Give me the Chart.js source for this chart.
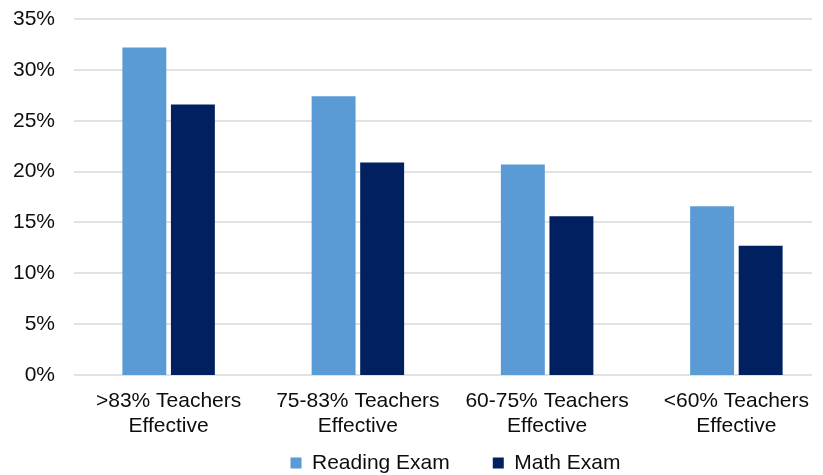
<!DOCTYPE html>
<html>
<head>
<meta charset="utf-8">
<script src="https://cdn.jsdelivr.net/npm/chart.js@4.4.1/dist/chart.umd.min.js"></script>
<style>
  html, body { margin: 0; padding: 0; background: #ffffff; overflow: hidden; }
  #wrap { position: relative; width: 831px; height: 475px; }
</style>
</head>
<body>
<div id="wrap"><canvas id="c"></canvas></div>
<script>
const categories = [
  ['>83% Teachers', 'Effective'],
  ['75-83% Teachers', 'Effective'],
  ['60-75% Teachers', 'Effective'],
  ['<60% Teachers', 'Effective']
];
const readingExam = [32.2, 27.4, 20.7, 16.6];
const mathExam = [26.6, 20.9, 15.6, 12.7];
const seriesNames = ['Reading Exam', 'Math Exam'];
const yTicks = [0, 5, 10, 15, 20, 25, 30, 35];

const gridRight = {
  id: 'gridRight',
  beforeDatasetsDraw(chart) {
    const ctx = chart.ctx, y = chart.scales.y, a = chart.chartArea;
    ctx.save();
    ctx.strokeStyle = '#d9d9d9';
    ctx.lineWidth = 1.5;
    y.ticks.forEach(t => {
      const py = Math.round(y.getPixelForValue(t.value));
      ctx.beginPath();
      ctx.moveTo(a.left, py);
      ctx.lineTo(a.left + 738, py);
      ctx.stroke();
    });
    ctx.restore();
  }
};

const layoutTweak = {
  id: 'layoutTweak',
  afterLayout(chart) {
    chart.legend.left += 33.5;
    chart.legend.right += 33.5;
    chart.scales.x.bottom = chart.height;
  }
};

Chart.defaults.font.family = "'Liberation Sans', Arial, sans-serif";
Chart.defaults.color = '#0d0d0d';

new Chart(document.getElementById('c'), {
  type: 'bar',
  data: {
    labels: categories,
    datasets: [
      { label: seriesNames[0], data: readingExam, backgroundColor: '#5b9bd5', borderWidth: 0 },
      { label: seriesNames[1], data: mathExam, backgroundColor: '#002060', borderWidth: 0 }
    ]
  },
  options: {
    responsive: true,
    maintainAspectRatio: false,
    animation: false,
    layout: { padding: { top: 19, left: 13, right: 0, bottom: -8.5 } },
    datasets: { bar: { categoryPercentage: 0.513, barPercentage: 0.905 } },
    plugins: {
      legend: {
        position: 'bottom',
        labels: { boxWidth: 11, boxHeight: 11, padding: 43, font: { size: 21 }, color: '#0d0d0d' }
      },
      tooltip: { enabled: false }
    },
    scales: {
      x: {
        grid: { display: false, drawTicks: false },
        border: { display: false },
        afterFit(scale) { scale.height = 34.5; },
        ticks: { font: { size: 21, lineHeight: 1.17 }, padding: 14, maxRotation: 0, autoSkip: false, color: '#0d0d0d' }
      },
      y: {
        min: 0, max: 35,
        afterBuildTicks(scale) { scale.ticks = yTicks.map(v => ({ value: v })); },
        afterFit(scale) { scale.width = 61; scale.paddingTop = 0; scale.paddingBottom = 0; },
        grid: { display: false, drawTicks: false },
        border: { display: false },
        ticks: { font: { size: 21 }, padding: 19, color: '#0d0d0d', callback: v => v + '%' }
      }
    }
  },
  plugins: [gridRight, layoutTweak]
});
</script>
</body>
</html>
